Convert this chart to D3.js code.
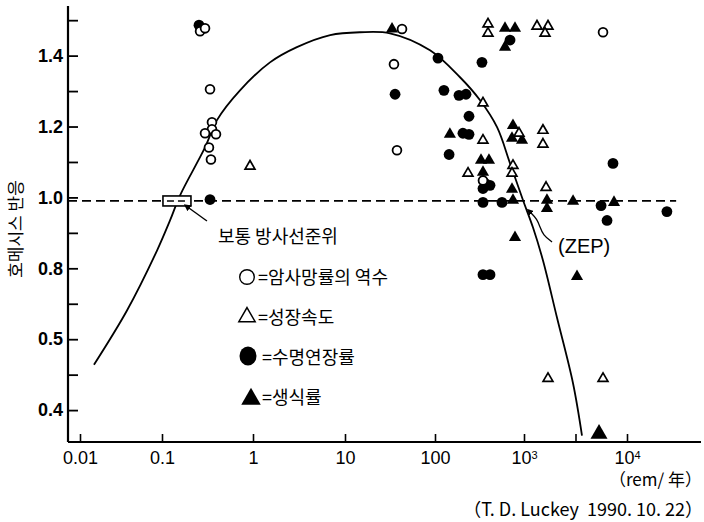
<!DOCTYPE html>
<html>
<head>
<meta charset="utf-8">
<script src="https://cdn.jsdelivr.net/npm/d3@7"></script>
<style>
  html, body { margin: 0; padding: 0; background: #fff; }
  svg { display: block; }
</style>
</head>
<body>
<div id="chart"></div>
<script>
// dose rate (rem/yr) on a log axis, hormesis response on the y axis
const xTickValues = [0.01, 0.1, 1, 10, 100, 1000, 3162, 10000];
const xTickLabels = ["0.01", "0.1", "1", "10", "100", "10^3", "", "10^4"];
const yTickValues = [0.4, 0.5, 0.6, 0.7, 0.8, 0.9, 1.0, 1.1, 1.2, 1.3, 1.4, 1.5];
const yTickLabels = ["0.4", "", "0.5", "", "0.8", "", "1.0", "", "1.2", "", "1.4", ""];

// fitted hormesis curve
const curveDose = [0.0148, 0.0374, 0.0869, 0.1225, 0.158, 0.297, 0.402, 0.72, 1.53, 3.0, 6.9, 14.7, 31.6, 88,
  191, 321, 498, 697, 975, 1223, 1529, 2090, 2994, 3656];
const curveResp = [0.528, 0.681, 0.850, 0.935, 1.006, 1.141, 1.218, 1.302, 1.381, 1.424, 1.458, 1.466, 1.463, 1.415,
  1.339, 1.274, 1.198, 1.096, 0.992, 0.915, 0.822, 0.661, 0.475, 0.328];

// ○ inverse of cancer mortality
const invCancerDose = [0.262, 0.297, 0.337, 0.354, 0.354, 0.297, 0.392, 0.328, 0.345, 43, 35, 37.8, 346, 5850];
const invCancerResp = [1.469, 1.477, 1.305, 1.212, 1.192, 1.181, 1.178, 1.141, 1.107, 1.475, 1.376, 1.133, 1.048, 1.466];

// △ growth rate
const growthDose = [0.927, 394, 394, 1337, 1710, 1600, 346, 346, 879, 1528, 1528, 235, 752, 733, 1637, 1710, 5850];
const growthResp = [1.088, 1.489, 1.463, 1.483, 1.483, 1.463, 1.266, 1.161, 1.181, 1.189, 1.150, 1.068, 1.090, 1.068,
  1.028, 0.489, 0.489];

// ● life-span extension
const lifespanDose = [0.255, 0.337, 108, 337, 36, 126, 186, 223, 241, 206, 241, 144, 697, 365, 346, 415, 346, 566,
  5600, 6400, 7310, 24400, 346, 415];
const lifespanResp = [1.486, 0.994, 1.393, 1.381, 1.291, 1.302, 1.288, 1.291, 1.229, 1.181, 1.178, 1.121, 1.444, 1.040,
  1.025, 1.034, 0.986, 0.986, 0.977, 0.935, 1.096, 0.960, 0.782, 0.782];

// ▲ fertility
const fertilityDose = [33.3, 612, 792, 612, 147, 752, 733, 950, 329, 404, 346, 733, 752, 1671, 1671, 2994, 7480, 792, 3270];
const fertilityResp = [1.475, 1.477, 1.477, 1.424, 1.178, 1.203, 1.167, 1.161, 1.105, 1.105, 1.071, 1.023, 0.992, 0.992,
  0.969, 0.989, 0.986, 0.887, 0.777];
const fertilityBigDose = [5350];
const fertilityBigResp = [0.333];

const legendLabels = ["=암사망률의 역수", "=성장속도", "=수명연장률", "=생식률"];

const baselineResp = 0.99;      // dashed "no effect" line
const baselineEndDose = 30000;
const normalDose = 0.146;       // normal background radiation box
const zepDose = 975;            // zero equivalent point

const W = 704, H = 522;
const LATIN = "'Liberation Sans Narrow', 'Liberation Sans', sans-serif";
const KOR = "'Noto Sans CJK KR', sans-serif";

// hand-drawn axis: decades are not quite evenly spaced, so map each one
const X_DECADES = [0.01, 0.1, 1, 10, 100, 1000, 10000];
const X_DECADE_PX = [80, 162, 253, 345, 435, 524, 627];
const x = d3.scaleLog().domain(X_DECADES).range(X_DECADE_PX);
const y = d3.scaleLinear().domain([0.31, 1.54]).range([442, 6]);
const AXIS_X = 68, AXIS_Y = y(0.31), AXIS_RIGHT = 701;

const svg = d3.select("#chart").append("svg")
  .attr("width", W).attr("height", H)
  .attr("viewBox", [0, 0, W, H]);

svg.append("defs").append("marker")
  .attr("id", "arrow")
  .attr("viewBox", "0 0 10 10")
  .attr("refX", 1).attr("refY", 5)
  .attr("markerWidth", 5).attr("markerHeight", 5)
  .attr("orient", "auto-start-reverse")
  .append("path").attr("d", "M0,0 L10,5 L0,10 z").attr("fill", "#000");

// axes
const yAxis = svg.append("g")
  .attr("transform", `translate(${AXIS_X},0)`)
  .call(d3.axisLeft(y).tickValues(yTickValues).tickSize(-10).tickPadding(5)
    .tickFormat((d, i) => yTickLabels[i]));
yAxis.select(".domain").remove();
yAxis.selectAll("line").attr("stroke", "#000").attr("stroke-width", 1.8);
yAxis.selectAll("text")
  .attr("font-family", LATIN).attr("font-size", 18).attr("font-weight", "bold").attr("fill", "#000");

const xAxis = svg.append("g")
  .attr("transform", `translate(0,${AXIS_Y})`)
  .call(d3.axisBottom(x).tickValues(xTickValues).tickSize(-8).tickPadding(9)
    .tickFormat((d, i) => xTickLabels[i]));
xAxis.select(".domain").remove();
xAxis.selectAll("line").attr("stroke", "#000").attr("stroke-width", 1.6);
xAxis.selectAll("text")
  .attr("font-family", LATIN).attr("font-size", 18).attr("fill", "#000")
  .each(function (d, i) {
    const lab = xTickLabels[i];
    if (lab.includes("^")) {
      const [base, exp] = lab.split("^");
      const t = d3.select(this).text(base);
      t.append("tspan").attr("dy", "-0.45em").attr("font-size", 11).text(exp);
    }
  });

svg.append("line")
  .attr("x1", AXIS_X).attr("x2", AXIS_X).attr("y1", y.range()[1]).attr("y2", AXIS_Y)
  .attr("stroke", "#000").attr("stroke-width", 2.2);
svg.append("line")
  .attr("x1", AXIS_X).attr("x2", AXIS_RIGHT).attr("y1", AXIS_Y).attr("y2", AXIS_Y)
  .attr("stroke", "#000").attr("stroke-width", 2.2);

// dashed baseline
svg.append("line")
  .attr("x1", AXIS_X).attr("x2", x(baselineEndDose))
  .attr("y1", y(baselineResp)).attr("y2", y(baselineResp))
  .attr("stroke", "#000").attr("stroke-width", 1.8).attr("stroke-dasharray", "9,5");

// fitted curve
const line = d3.line()
  .x(i => x(curveDose[i])).y(i => y(curveResp[i]))
  .curve(d3.curveCatmullRom);
svg.append("path")
  .attr("d", line(d3.range(curveDose.length)))
  .attr("fill", "none").attr("stroke", "#000").attr("stroke-width", 1.8);

// normal level box
const bx = x(normalDose), by = y(baselineResp);
svg.append("rect")
  .attr("x", bx - 14).attr("y", by - 5).attr("width", 28).attr("height", 10)
  .attr("fill", "#fff").attr("stroke", "#000").attr("stroke-width", 1.6);
svg.append("line")
  .attr("x1", bx - 10).attr("x2", bx + 10).attr("y1", by).attr("y2", by)
  .attr("stroke", "#000").attr("stroke-width", 1.4).attr("stroke-dasharray", "7,4");
svg.append("line")
  .attr("x1", bx + 12).attr("y1", by + 7).attr("x2", bx + 30).attr("y2", by + 20)
  .attr("stroke", "#000").attr("stroke-width", 1.4).attr("marker-start", "url(#arrow)");
svg.append("text")
  .attr("x", bx + 41).attr("y", by + 42)
  .attr("font-family", KOR).attr("font-size", 18).attr("fill", "#000")
  .text("보통 방사선준위");

// ZEP pointer
const zx = x(zepDose), zy = y(baselineResp);
svg.append("path")
  .attr("d", d3.line().curve(d3.curveBasis)([
    [zx + 8, zy + 12], [zx + 14, zy + 18], [zx + 17, zy + 26], [zx + 20, zy + 34], [zx + 29, zy + 41]]))
  .attr("fill", "none").attr("stroke", "#000").attr("stroke-width", 1.3)
  .attr("marker-start", "url(#arrow)");
svg.append("text")
  .attr("x", zx + 35).attr("y", zy + 52)
  .attr("font-family", LATIN).attr("font-size", 20).attr("fill", "#000")
  .text("(ZEP)");

// data points: filled first, open ones on top
const tri = d3.symbol().type(d3.symbolTriangle);

svg.append("g").selectAll("circle")
  .data(d3.range(lifespanDose.length)).join("circle")
  .attr("cx", i => x(lifespanDose[i])).attr("cy", i => y(lifespanResp[i]))
  .attr("r", 5.4).attr("fill", "#000");

svg.append("g").selectAll("path")
  .data(d3.range(fertilityDose.length)).join("path")
  .attr("transform", i => `translate(${x(fertilityDose[i])},${y(fertilityResp[i])})`)
  .attr("d", tri.size(64)()).attr("fill", "#000");

svg.append("g").selectAll("path")
  .data(d3.range(fertilityBigDose.length)).join("path")
  .attr("transform", i => `translate(${x(fertilityBigDose[i])},${y(fertilityBigResp[i])})`)
  .attr("d", tri.size(125)()).attr("fill", "#000");

svg.append("g").selectAll("circle")
  .data(d3.range(invCancerDose.length)).join("circle")
  .attr("cx", i => x(invCancerDose[i])).attr("cy", i => y(invCancerResp[i]))
  .attr("r", 4.4).attr("fill", "#fff").attr("stroke", "#000").attr("stroke-width", 1.8);

svg.append("g").selectAll("path")
  .data(d3.range(growthDose.length)).join("path")
  .attr("transform", i => `translate(${x(growthDose[i])},${y(growthResp[i])})`)
  .attr("d", tri.size(42)()).attr("fill", "#fff").attr("stroke", "#000").attr("stroke-width", 1.7);

// legend
const LEG_X = 247, LEG_Y = 277, LEG_STEP = 40;
const leg = svg.append("g");
leg.append("circle").attr("cx", LEG_X).attr("cy", LEG_Y).attr("r", 7.3)
  .attr("fill", "#fff").attr("stroke", "#000").attr("stroke-width", 1.4);
leg.append("path").attr("transform", `translate(${LEG_X},${LEG_Y + LEG_STEP})`)
  .attr("d", tri.size(115)()).attr("fill", "#fff").attr("stroke", "#000").attr("stroke-width", 1.5);
leg.append("ellipse").attr("cx", LEG_X + 1).attr("cy", LEG_Y + 2 * LEG_STEP - 1).attr("rx", 8.5).attr("ry", 9.5)
  .attr("fill", "#000");
leg.append("path").attr("transform", `translate(${LEG_X + 4},${LEG_Y + 3 * LEG_STEP + 2})`)
  .attr("d", tri.size(165)()).attr("fill", "#000");
leg.selectAll("text").data(legendLabels).join("text")
  .attr("x", (d, i) => LEG_X + (i < 2 ? 11 : 15))
  .attr("y", (d, i) => LEG_Y + i * LEG_STEP + 7)
  .attr("font-family", KOR).attr("font-size", 18).attr("fill", "#000")
  .text(d => d);

// axis titles and credit
svg.append("text")
  .attr("transform", `translate(17,229) rotate(-90)`)
  .attr("text-anchor", "middle").attr("dominant-baseline", "middle")
  .attr("font-family", KOR).attr("font-size", 17).attr("fill", "#000")
  .text("호메시스 반응");
svg.append("text")
  .attr("x", 702).attr("y", 486).attr("text-anchor", "end")
  .attr("font-family", `${LATIN.split(",")[0]}, ${KOR}`).attr("font-size", 17).attr("fill", "#000")
  .text("（rem/ 年）");
svg.append("text")
  .attr("x", 703).attr("y", 516).attr("text-anchor", "end")
  .style("white-space", "pre")
  .attr("font-family", `${LATIN.split(",")[0]}, ${KOR}`).attr("font-size", 18).attr("fill", "#000")
  .text("（T. D. Luckey  1990. 10. 22）");
</script>
</body>
</html>
